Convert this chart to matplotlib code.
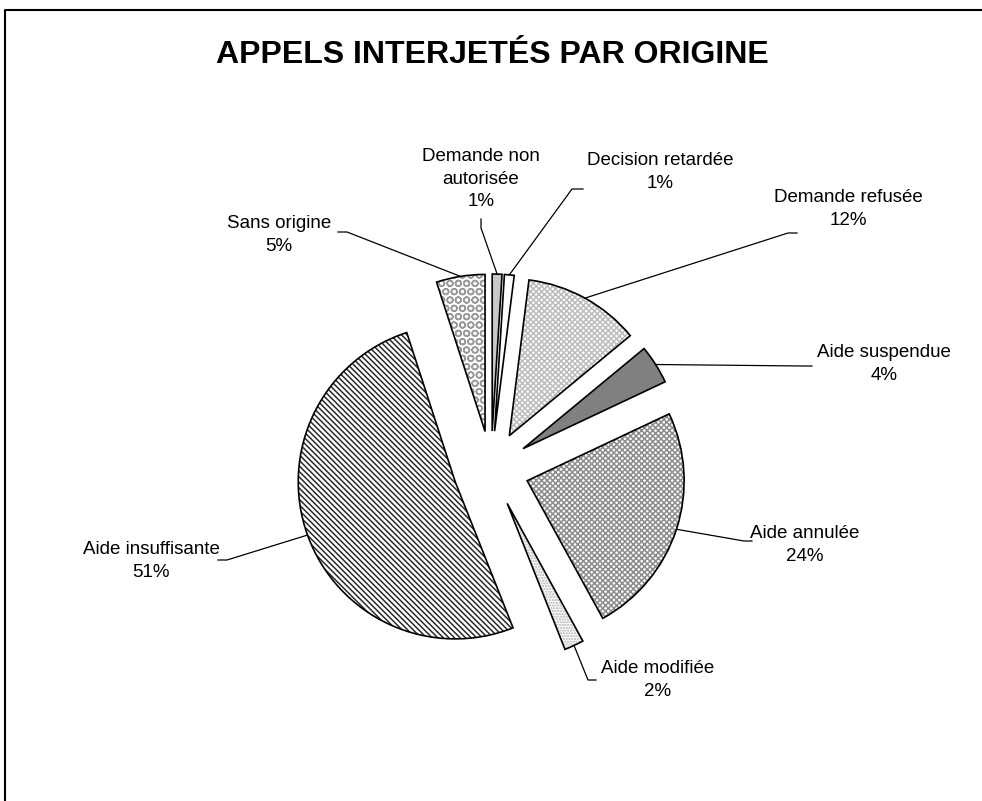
import numpy as np
import matplotlib
matplotlib.use("Agg")
import matplotlib.pyplot as plt
from matplotlib.lines import Line2D

plt.rcParams['font.family'] = ['Liberation Sans', 'DejaVu Sans']
plt.rcParams['hatch.linewidth'] = 1.1

# ---- data ----
title = "APPELS INTERJETÉS PAR ORIGINE"
categories = ["Demande non\nautorisée", "Decision retardée", "Demande refusée",
              "Aide suspendue", "Aide annulée", "Aide modifiée",
              "Aide insuffisante", "Sans origine"]
values = [1, 1, 12, 4, 24, 2, 51, 5]

# ---- styles ----
face_colors = ['#c8c8c8', 'white', 'white', '#808080', 'white', 'white', 'white', 'white']
hatches = [None, None, 'xxxxxx', None, 'xxxxxx', '......', '\\' * 6, 'OO']
hatch_colors = ['#c8c8c8', 'white', '#bcbcbc', '#808080', '#8c8c8c', '#b0b0b0', '#2a2a2a', '#9a9a9a']

W, H = 982, 801
fig = plt.figure(figsize=(W / 100, H / 100), dpi=100)
ax = fig.add_axes([0, 0, 1, 1])

def Y(y):
    return H - y

center = (491, Y(469))
radius = 157
explode = [38] * len(values)

# fill / hatch layer
wedges, _ = ax.pie(values, center=center, radius=radius, explode=explode,
                   startangle=90, counterclock=False,
                   colors=face_colors,
                   wedgeprops=dict(linewidth=0))
for w, h, hc in zip(wedges, hatches, hatch_colors):
    if h:
        w.set_hatch(h)
        w.set_edgecolor(hc)
        w.set_linewidth(0)

# outline layer
ax.pie(values, center=center, radius=radius, explode=explode,
       startangle=90, counterclock=False,
       wedgeprops=dict(fill=False, edgecolor='black', linewidth=1.2))

ax.set_xlim(0, W)
ax.set_ylim(0, H)
ax.set_axis_off()

# labels (positions in pixel coordinates from top)
label_pos = [(481, 179), (660, 172), (848, 209), (884, 364),
             (805, 545), (658, 680), (151, 561), (279, 235)]
leader_start = [((481, 219), (481, 228)), ((583, 189), (572, 189)),
                ((797, 233), (788, 233)), ((812, 366), (804, 366)),
                ((752, 541), (744, 541)), ((596, 680), (588, 680)),
                ((218, 560), (227, 560)), ((338, 232), (347, 232))]

total = sum(values)
for w, cat, v, (lx, ly), (p0, p1) in zip(wedges, categories, values, label_pos, leader_start):
    ax.text(lx, Y(ly), f"{cat}\n{round(100 * v / total)}%", ha='center', va='center',
            fontsize=13.5, linespacing=1.42, color='black')
    mid = np.deg2rad((w.theta1 + w.theta2) / 2)
    cx, cy = w.center
    ex, ey = cx + w.r * np.cos(mid), cy + w.r * np.sin(mid)
    ax.plot([p0[0], p1[0], ex], [Y(p0[1]), Y(p1[1]), ey], color='black', linewidth=0.9)

ax.text(492, Y(55), title, ha='center', va='center', fontsize=23, fontweight='bold')

# frame
fig.add_artist(Line2D([4.5 / W, 4.5 / W, 1.0], [0, 1 - 9.5 / H, 1 - 9.5 / H],
                      transform=fig.transFigure, color='black', linewidth=1.5))

fig.savefig("out.png", dpi=100)
